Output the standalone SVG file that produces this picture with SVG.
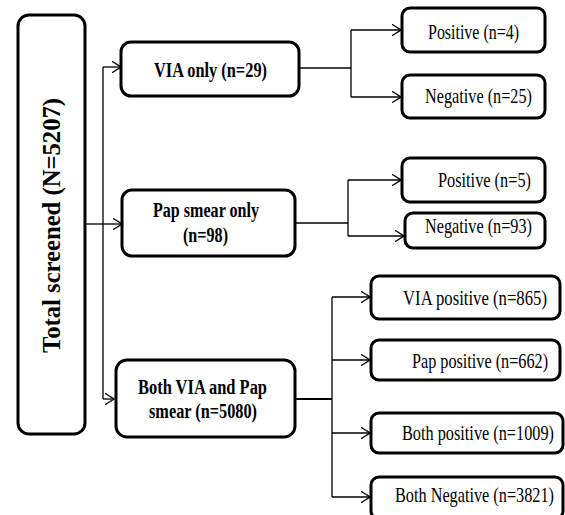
<svg xmlns="http://www.w3.org/2000/svg" width="565" height="515" viewBox="0 0 565 515">
<style>
.box{fill:#fff;stroke:#000;stroke-width:3}
.ln{fill:none;stroke:#000;stroke-width:1.3}
.b{font-family:"Liberation Serif","Times New Roman",serif;font-weight:bold;font-size:20px;fill:#000}
.r{font-family:"Liberation Serif","Times New Roman",serif;font-size:21px;fill:#000}
</style>
<defs>
<marker id="ah" viewBox="0 0 10 12" refX="9.5" refY="6" markerWidth="10" markerHeight="12" markerUnits="userSpaceOnUse" orient="auto">
<path d="M0,0 L9.5,6 L0,12" fill="none" stroke="#000" stroke-width="1.3"/>
</marker>
</defs>
<g id="connectors">
<path class="ln" d="M85,224 H103"/>
<path class="ln" d="M103,67 V399"/>
<path class="ln" d="M103,67 H121" marker-end="url(#ah)"/>
<path class="ln" d="M103,224 H122" marker-end="url(#ah)"/>
<path class="ln" d="M103,399 H114" marker-end="url(#ah)"/>
<path class="ln" d="M299,68 H351"/>
<path class="ln" d="M351,30 V97"/>
<path class="ln" d="M351,30 H401" marker-end="url(#ah)"/>
<path class="ln" d="M351,97 H401" marker-end="url(#ah)"/>
<path class="ln" d="M295,223 H348"/>
<path class="ln" d="M348,180 V236"/>
<path class="ln" d="M348,180 H401" marker-end="url(#ah)"/>
<path class="ln" d="M348,236 H404" marker-end="url(#ah)"/>
<path class="ln" d="M295,399 H332" style="stroke-width:2"/>
<path class="ln" d="M332,297 V497"/>
<path class="ln" d="M332,297 H370" marker-end="url(#ah)"/>
<path class="ln" d="M332,360 H370" marker-end="url(#ah)"/>
<path class="ln" d="M332,433 H370" marker-end="url(#ah)"/>
<path class="ln" d="M332,497 H370" marker-end="url(#ah)"/>
</g>
<g id="total">
<rect class="box" x="18" y="15" width="67" height="419" rx="11"/>
<text class="b" transform="translate(60,353) rotate(-90)" style="font-size:25px" textLength="255" lengthAdjust="spacingAndGlyphs">Total screened (N=5207)</text>
</g>
<g id="via-only">
<rect class="box" x="121" y="42" width="178" height="54" rx="10"/>
<text class="b" transform="translate(154,77) scale(0.78,1)" style="font-size:21px" textLength="144.9" lengthAdjust="spacingAndGlyphs">VIA only (n=29)</text>
</g>
<g id="pap-only">
<rect class="box" x="122" y="190" width="173" height="66" rx="10"/>
<text class="b" transform="translate(153,217) scale(0.78,1)" textLength="135.9" lengthAdjust="spacingAndGlyphs">Pap smear only</text>
<text class="b" transform="translate(183,242) scale(0.78,1)" textLength="57.7" lengthAdjust="spacingAndGlyphs">(n=98)</text>
</g>
<g id="both">
<rect class="box" x="116" y="360" width="179" height="77" rx="11"/>
<text class="b" transform="translate(138,394) scale(0.78,1)" textLength="165.4" lengthAdjust="spacingAndGlyphs">Both VIA and Pap</text>
<text class="b" transform="translate(149,418) scale(0.78,1)" textLength="138.5" lengthAdjust="spacingAndGlyphs">smear (n=5080)</text>
</g>
<g id="via-pos">
<rect class="box" x="402" y="8" width="143" height="44" rx="8"/>
<text class="r" transform="translate(428,39) scale(0.78,1)" textLength="116.7" lengthAdjust="spacingAndGlyphs">Positive (n=4)</text>
</g>
<g id="via-neg">
<rect class="box" x="402" y="75" width="143" height="43" rx="8"/>
<text class="r" transform="translate(425,103) scale(0.78,1)" textLength="137.2" lengthAdjust="spacingAndGlyphs">Negative (n=25)</text>
</g>
<g id="pap-pos">
<rect class="box" x="402" y="158" width="143" height="44" rx="8"/>
<text class="r" transform="translate(438,187) scale(0.78,1)" textLength="119.2" lengthAdjust="spacingAndGlyphs">Positive (n=5)</text>
</g>
<g id="pap-neg">
<rect class="box" x="405" y="213" width="140" height="35" rx="8"/>
<text class="r" transform="translate(425,233) scale(0.78,1)" textLength="137.2" lengthAdjust="spacingAndGlyphs">Negative (n=93)</text>
</g>
<g id="both-via-pos">
<rect class="box" x="371" y="276" width="189" height="43" rx="8"/>
<text class="r" transform="translate(403,305) scale(0.78,1)" textLength="184.6" lengthAdjust="spacingAndGlyphs">VIA positive (n=865)</text>
</g>
<g id="both-pap-pos">
<rect class="box" x="371" y="340" width="189" height="40" rx="8"/>
<text class="r" transform="translate(412,368) scale(0.78,1)" textLength="174.4" lengthAdjust="spacingAndGlyphs">Pap positive (n=662)</text>
</g>
<g id="both-pos">
<rect class="box" x="371" y="413" width="192" height="40" rx="8"/>
<text class="r" transform="translate(402,440) scale(0.78,1)" textLength="194.9" lengthAdjust="spacingAndGlyphs">Both positive (n=1009)</text>
</g>
<g id="both-neg">
<rect class="box" x="371" y="477" width="192" height="42" rx="8"/>
<text class="r" transform="translate(395,502) scale(0.78,1)" textLength="203.8" lengthAdjust="spacingAndGlyphs">Both Negative (n=3821)</text>
</g>
</svg>
